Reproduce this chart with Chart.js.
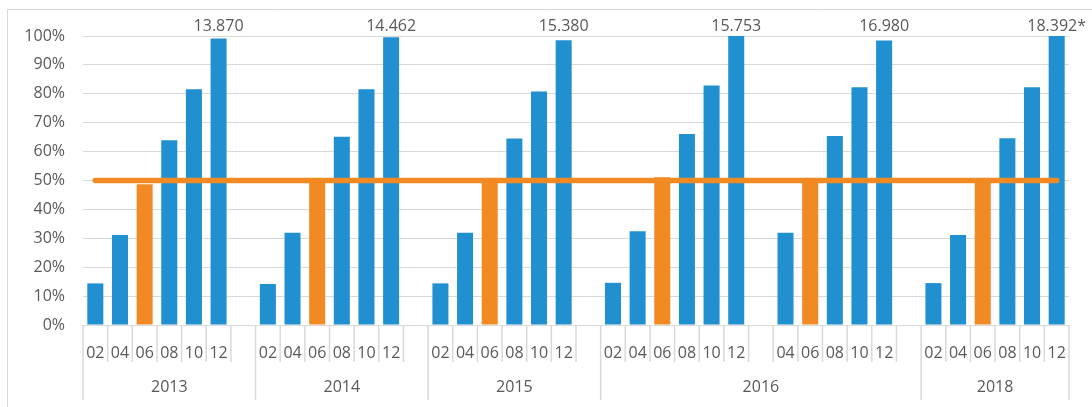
<!DOCTYPE html>
<html>
<head>
<meta charset="utf-8">
<script src="https://cdn.jsdelivr.net/npm/chart.js@4"></script>
<style>
  html, body { margin: 0; padding: 0; background: #fff; }
</style>
</head>
<body>
<canvas id="chart" width="1092" height="407"></canvas>
<script>
// category axis: months, with an empty slot closing each block
const months = [
  '02', '04', '06', '08', '10', '12', '',
  '02', '04', '06', '08', '10', '12', '',
  '02', '04', '06', '08', '10', '12', '',
  '02', '04', '06', '08', '10', '12', '', '04', '06', '08', '10', '12', '',
  '02', '04', '06', '08', '10', '12'
];
const years = ['2013', '2014', '2015', '2016', '2018'];
const yearSpans = [7, 7, 7, 13, 6];

// share of the year (%) - blue months
const shareBlue = [
  14.4, 31.1, null, 63.9, 81.6, 99.1, null,
  14.2, 31.9, null, 65.1, 81.6, 99.6, null,
  14.4, 31.9, null, 64.5, 80.8, 98.5, null,
  14.6, 32.4, null, 66.1, 82.9, 100, null, 31.9, null, 65.4, 82.3, 98.4, null,
  14.5, 31.1, null, 64.6, 82.3, 100
];
// june highlighted in orange
const shareJune = [
  null, null, 48.7, null, null, null, null,
  null, null, 49.8, null, null, null, null,
  null, null, 49.9, null, null, null, null,
  null, null, 51.1, null, null, null, null, null, 49.9, null, null, null, null,
  null, null, 49.5, null, null, null
];
const halfLine = [
  50, 50, 50, 50, 50, 50, 50,
  50, 50, 50, 50, 50, 50, 50,
  50, 50, 50, 50, 50, 50, 50,
  50, 50, 50, 50, 50, 50, 50, 50, 50, 50, 50, 50, 50,
  50, 50, 50, 50, 50, 50
];
// yearly totals written above the december bar
const totals = [
  '', '', '', '', '', '13.870', '',
  '', '', '', '', '', '14.462', '',
  '', '', '', '', '', '15.380', '',
  '', '', '', '', '', '15.753', '', '', '', '', '', '16.980', '',
  '', '', '', '', '', '18.392*'
];
const yTicks = [0, 10, 20, 30, 40, 50, 60, 70, 80, 90, 100];

const BLUE = '#2090d1';
const ORANGE = '#f28a24';
const TEXT = '#595959';
const GRID = '#d9d9d9';
const FONT = { family: 'Open Sans', size: 16 };

const axisExtras = {
    id: 'axisExtras',
    beforeDraw(chart) {
        const ctx = chart.ctx;
        ctx.save();
        ctx.fillStyle = '#fff';
        ctx.fillRect(0, 0, chart.width, chart.height);
        ctx.strokeStyle = GRID;
        ctx.lineWidth = 1;
        ctx.beginPath();
        ctx.moveTo(7.5, chart.height);
        ctx.lineTo(7.5, 9.5);
        ctx.lineTo(chart.width, 9.5);
        ctx.stroke();
        ctx.restore();
    },
    afterDraw(chart) {
        const ctx = chart.ctx;
        const xs = chart.scales.x;
        const area = chart.chartArea;
        const slot = xs.getPixelForValue(1) - xs.getPixelForValue(0);
        const start = xs.getPixelForValue(0) - slot / 2;

        // group boundaries
        const edges = [0];
        yearSpans.forEach(s => edges.push(edges[edges.length - 1] + s));

        ctx.save();
        ctx.strokeStyle = GRID;
        ctx.lineWidth = 1.5;
        for (let i = 0; i <= months.length; i++) {
            const x = start + i * slot;
            const long = edges.includes(i);
            ctx.beginPath();
            ctx.moveTo(x, area.bottom);
            ctx.lineTo(x, area.bottom + (long ? 75 : 37));
            ctx.stroke();
        }

        ctx.fillStyle = TEXT;
        ctx.font = FONT.size + 'px "' + FONT.family + '"';
        ctx.textAlign = 'center';
        ctx.textBaseline = 'middle';
        years.forEach((y, k) => {
            const cx = start + (edges[k] + edges[k + 1]) / 2 * slot;
            ctx.fillText(y, cx, area.bottom + 62);
        });

        totals.forEach((t, i) => {
            if (!t) return;
            ctx.fillText(t, xs.getPixelForValue(i), area.top - 10);
        });
        ctx.restore();
    }
};

new Chart(document.getElementById('chart'), {
    type: 'bar',
    data: {
        labels: months,
        datasets: [
            {
                type: 'line',
                data: halfLine,
                borderColor: ORANGE,
                borderWidth: 5.5,
                borderCapStyle: 'round',
                pointRadius: 0,
                order: 0
            },
            {
                data: shareBlue,
                backgroundColor: BLUE,
                grouped: false,
                barPercentage: 0.65,
                categoryPercentage: 1,
                order: 1
            },
            {
                data: shareJune,
                backgroundColor: ORANGE,
                grouped: false,
                barPercentage: 0.65,
                categoryPercentage: 1,
                order: 1
            }
        ]
    },
    options: {
        responsive: false,
        animation: false,
        layout: { padding: { left: 0, right: 23, top: 36, bottom: 0 } },
        plugins: {
            legend: { display: false },
            tooltip: { enabled: false }
        },
        scales: {
            x: {
                grid: { display: false },
                border: { display: false },
                ticks: {
                    color: TEXT,
                    font: FONT,
                    padding: 11,
                    autoSkip: false,
                    maxRotation: 0
                },
                afterFit(scale) { scale.height = 82; }
            },
            y: {
                min: 0,
                max: 100,
                afterBuildTicks(scale) { scale.ticks = yTicks.map(v => ({ value: v })); },
                grid: { color: GRID, drawTicks: false },
                border: { display: false },
                ticks: {
                    color: TEXT,
                    font: FONT,
                    padding: 18,
                    callback: v => v + '%'
                },
                afterFit(scale) { scale.width = 83; }
            }
        }
    },
    plugins: [axisExtras]
});
</script>
</body>
</html>
